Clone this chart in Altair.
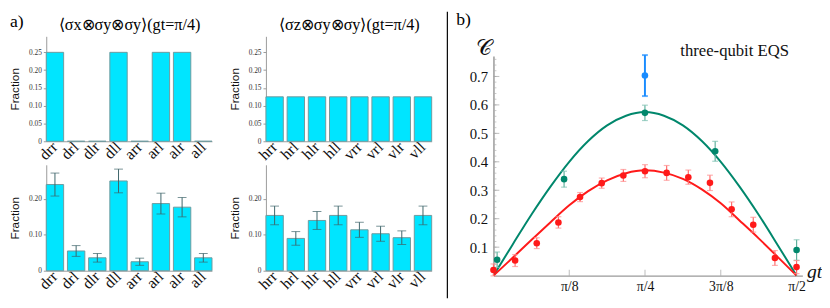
import math
import altair as alt
import pandas as pd

PI = math.pi

# ---------------- panel a data ----------------
cats_x = ["drr", "drl", "dlr", "dll", "arr", "arl", "alr", "all"]
cats_z = ["hrr", "hrl", "hlr", "hll", "vrr", "vrl", "vlr", "vll"]
theory_x = [0.25, 0.0, 0.0, 0.25, 0.0, 0.25, 0.25, 0.0]
theory_z = [0.125, 0.125, 0.125, 0.125, 0.125, 0.125, 0.125, 0.125]
meas_x = [0.240, 0.055, 0.036, 0.250, 0.025, 0.187, 0.177, 0.036]
meas_x_err = [0.032, 0.015, 0.012, 0.033, 0.010, 0.029, 0.027, 0.012]
meas_z = [0.154, 0.090, 0.140, 0.154, 0.114, 0.103, 0.092, 0.154]
meas_z_err = [0.026, 0.019, 0.025, 0.026, 0.021, 0.021, 0.019, 0.026]
frac_ticks = [0, 0.05, 0.10, 0.15, 0.20, 0.25]
title_x = "⟨σx⊗σy⊗σy⟩(gt=π/4)"
title_z = "⟨σz⊗σy⊗σy⟩(gt=π/4)"

# ---------------- panel b data ----------------
curve_k = list(range(17))  # gt = k * pi/32
curve_green = [0.0, 0.108, 0.214, 0.312, 0.400, 0.473, 0.528, 0.562, 0.575,
               0.562, 0.528, 0.473, 0.400, 0.312, 0.214, 0.108, 0.0]
curve_red = [0.0, 0.062, 0.125, 0.187, 0.247, 0.297, 0.335, 0.360, 0.370,
             0.362, 0.340, 0.303, 0.254, 0.193, 0.131, 0.066, 0.0]
red_k = list(range(15))  # gt = k * pi/28
red_vals = [0.020, 0.053, 0.114, 0.187, 0.276, 0.325, 0.352, 0.367, 0.361,
            0.346, 0.326, 0.233, 0.179, 0.062, 0.030]
red_err = [0.021, 0.021, 0.019, 0.020, 0.016, 0.018, 0.021, 0.023, 0.026,
           0.025, 0.027, 0.026, 0.026, 0.026, 0.023]
green_gt = [0.019, 0.366, 0.785, 1.149, 1.571]
green_vals = [0.056, 0.339, 0.572, 0.437, 0.090]
green_err = [0.027, 0.028, 0.027, 0.035, 0.036]
blue_gt = [0.785]
blue_vals = [0.703]
blue_err = [0.072]
x_tick_vals = [PI / 8, PI / 4, 3 * PI / 8, PI / 2]
y_major_vals = [0.1, 0.2, 0.3, 0.4, 0.5, 0.6, 0.7]
y_minor_vals = [round(0.02 * i, 2) for i in range(1, 39)]
legend_text = "three-qubit EQS"

SERIF = "Liberation Serif"
BAR_FILL = "#00E5FF"
BAR_STROKE = "#6E9A9E"
AX_GRAY = "#9a9a9a"


def bar_panel(cats, vals, errs=None, title=None, corner=None):
    df = pd.DataFrame({"cat": cats, "val": vals})
    x = alt.X("cat:N", sort=cats, title=None,
              scale=alt.Scale(paddingInner=0.18, paddingOuter=0),
              axis=alt.Axis(labelAngle=-45, labelAlign="right", labelBaseline="middle",
                            labelFont=SERIF, labelFontSize=16, labelColor="#111",
                            labelOverlap=False, ticks=False, domainColor=AX_GRAY, labelPadding=3))
    y = alt.Y("val:Q", title="Fraction",
              scale=alt.Scale(domain=[0, 0.295], nice=False),
              axis=alt.Axis(values=frac_ticks, grid=False, labelOverlap=False,
                            labelExpr="datum.value == 0 ? '0' : format(datum.value, '.2f')",
                            labelFont=SERIF, labelFontSize=7.5, labelColor="#333",
                            tickSize=3, tickColor=AX_GRAY, domainColor=AX_GRAY,
                            titleFont="Liberation Sans", titleFontSize=12,
                            titleFontWeight="normal", titleColor="#111", titlePadding=7))
    layers = [alt.Chart(df).mark_bar(fill=BAR_FILL, stroke=BAR_STROKE, strokeWidth=1).encode(x=x, y=y)]
    if errs is not None:
        edf = pd.DataFrame({"cat": cats,
                            "lo": [v - e for v, e in zip(vals, errs)],
                            "hi": [v + e for v, e in zip(vals, errs)]})
        xe = alt.X("cat:N", sort=cats)
        layers.append(alt.Chart(edf).mark_rule(color="#3d6469", strokeWidth=1).encode(
            x=xe, y="lo:Q", y2="hi:Q"))
        layers.append(alt.Chart(edf).mark_tick(color="#3d6469", thickness=1, size=9).encode(x=xe, y="lo:Q"))
        layers.append(alt.Chart(edf).mark_tick(color="#3d6469", thickness=1, size=9).encode(x=xe, y="hi:Q"))
    if title is not None:
        layers.append(alt.Chart(pd.DataFrame({"t": [title]})).mark_text(
            align="center", baseline="alphabetic", font=SERIF, fontSize=16.5, color="black").encode(
            x=alt.value(85), y=alt.value(-6), text="t:N"))
    if corner is not None:
        layers.append(alt.Chart(pd.DataFrame({"t": [corner]})).mark_text(
            align="left", baseline="alphabetic", font=SERIF, fontSize=18, color="black").encode(
            x=alt.value(-37), y=alt.value(-10), text="t:N"))
    return alt.layer(*layers).properties(width=169, height=107 if title else 108)


a1 = bar_panel(cats_x, theory_x, title=title_x, corner="a)")
a2 = bar_panel(cats_z, theory_z, title=title_z)
a3 = bar_panel(cats_x, meas_x, errs=meas_x_err)
a4 = bar_panel(cats_z, meas_z, errs=meas_z_err)
a_col = alt.vconcat(alt.hconcat(a1, a2, spacing=15), alt.hconcat(a3, a4, spacing=15), spacing=2)

sep = alt.Chart(pd.DataFrame({"d": [0]})).mark_rule(color="black", strokeWidth=1.2).encode(
    x=alt.value(7), y=alt.value(-25), y2=alt.value(267)).properties(width=7, height=244)

# ---------------- panel b ----------------
B_H = 244
XS = alt.Scale(domain=[0, 1.601], nice=False)
YS = alt.Scale(domain=[0, 0.772], nice=False, range=[B_H, 20])
x_axis = alt.Axis(values=x_tick_vals, grid=False, labelOverlap=False, ticks=False,
                  labelExpr="datum.value < 0.5 ? 'π/8' : datum.value < 1 ? 'π/4' : datum.value < 1.3 ? '3π/8' : 'π/2'",
                  labelFont=SERIF, labelFontSize=14, labelColor="#111", labelPadding=4,
                  domainColor=AX_GRAY, domainWidth=1.5,
                  title="gt", titleFont=SERIF, titleFontStyle="italic", titleFontWeight="normal",
                  titleFontSize=20, titleColor="#111", titleAngle=0, titleAlign="center",
                  titleBaseline="alphabetic", titleX=327, titleY=2)
y_axis = alt.Axis(values=y_major_vals, grid=False, labelOverlap=False, ticks=False,
                  format=".1f",
                  labelFont=SERIF, labelFontSize=15, labelColor="#111", labelPadding=6,
                  domainColor=AX_GRAY, domainWidth=1.5,
                  title="𝒞", titleFont="DejaVu Serif", titleFontWeight="normal",
                  titleFontSize=22, titleColor="#111", titleAngle=0, titleAlign="center",
                  titleBaseline="alphabetic", titleX=-10, titleY=19)

gdf = pd.DataFrame({"gt": [k * PI / 32 for k in curve_k], "v": curve_green})
rdf = pd.DataFrame({"gt": [k * PI / 32 for k in curve_k], "v": curve_red})
green_line = alt.Chart(gdf).mark_line(color="#00876c", strokeWidth=2, interpolate="monotone").encode(
    x=alt.X("gt:Q", scale=XS, axis=x_axis), y=alt.Y("v:Q", scale=YS, axis=y_axis))
red_line = alt.Chart(rdf).mark_line(color="#ff1a1a", strokeWidth=2, interpolate="monotone").encode(
    x=alt.X("gt:Q", scale=XS), y=alt.Y("v:Q", scale=YS))

# inward axis ticks
y_minor = alt.Chart(pd.DataFrame({"v": y_minor_vals})).mark_tick(
    orient="horizontal", size=3, thickness=1, xOffset=1.5, color="#b0b0b0").encode(
    x=alt.value(0), y=alt.Y("v:Q", scale=YS))
y_major = alt.Chart(pd.DataFrame({"v": y_major_vals})).mark_tick(
    orient="horizontal", size=6, thickness=1, xOffset=3, color="#a0a0a0").encode(
    x=alt.value(0), y=alt.Y("v:Q", scale=YS))
x_major = alt.Chart(pd.DataFrame({"gt": x_tick_vals})).mark_tick(
    orient="vertical", size=6, thickness=1, yOffset=-3, color="#a0a0a0").encode(
    x=alt.X("gt:Q", scale=XS), y=alt.value(B_H))


def points(gts, vals, errs, color, bar_color, cap_color, bar_w, cap_w, size):
    df = pd.DataFrame({"gt": gts, "v": vals,
                       "lo": [v - e for v, e in zip(vals, errs)],
                       "hi": [v + e for v, e in zip(vals, errs)]})
    base = alt.Chart(df)
    xq = alt.X("gt:Q", scale=XS)
    return [
        base.mark_rule(color=bar_color, strokeWidth=bar_w).encode(x=xq, y=alt.Y("lo:Q", scale=YS), y2="hi:Q"),
        base.mark_tick(color=cap_color, thickness=cap_w, size=6, orient="horizontal").encode(x=xq, y=alt.Y("lo:Q", scale=YS)),
        base.mark_tick(color=cap_color, thickness=cap_w, size=6, orient="horizontal").encode(x=xq, y=alt.Y("hi:Q", scale=YS)),
        base.mark_circle(color=color, opacity=1, size=size).encode(x=xq, y=alt.Y("v:Q", scale=YS)),
    ]


red_pts = points([k * PI / 28 for k in red_k], red_vals, red_err, "#ff1a1a", "#ff6b6b", "#ff8f8f", 1.2, 1.2, 45)
green_pts = points(green_gt, green_vals, green_err, "#00876c", "#5fb09d", "#7cc0b0", 1.2, 1.2, 45)
blue_pts = points(blue_gt, blue_vals, blue_err, "#1a8cff", "#1a8cff", "#1a8cff", 2, 2, 45)

label_df = pd.DataFrame({"gt": [1.25], "v": [0.79], "t": [legend_text]})
label = alt.Chart(label_df).mark_text(font=SERIF, fontSize=17, color="#111", baseline="middle").encode(
    x=alt.X("gt:Q", scale=XS), y=alt.Y("v:Q", scale=YS), text="t:N")
corner_b = alt.Chart(pd.DataFrame({"t": ["b)"]})).mark_text(
    align="left", baseline="alphabetic", font=SERIF, fontSize=18, color="black").encode(
    x=alt.value(-38), y=alt.value(-12), text="t:N")

b_chart = alt.layer(green_line, red_line, y_minor, y_major, x_major,
                    *green_pts, *red_pts, *blue_pts, label, corner_b).properties(
    width=315, height=B_H)

chart = alt.hconcat(a_col, sep, b_chart, spacing=8).properties(padding=0).configure_view(strokeWidth=0)
chart.save("out.html", embed_options={"renderer": "svg", "actions": False})
